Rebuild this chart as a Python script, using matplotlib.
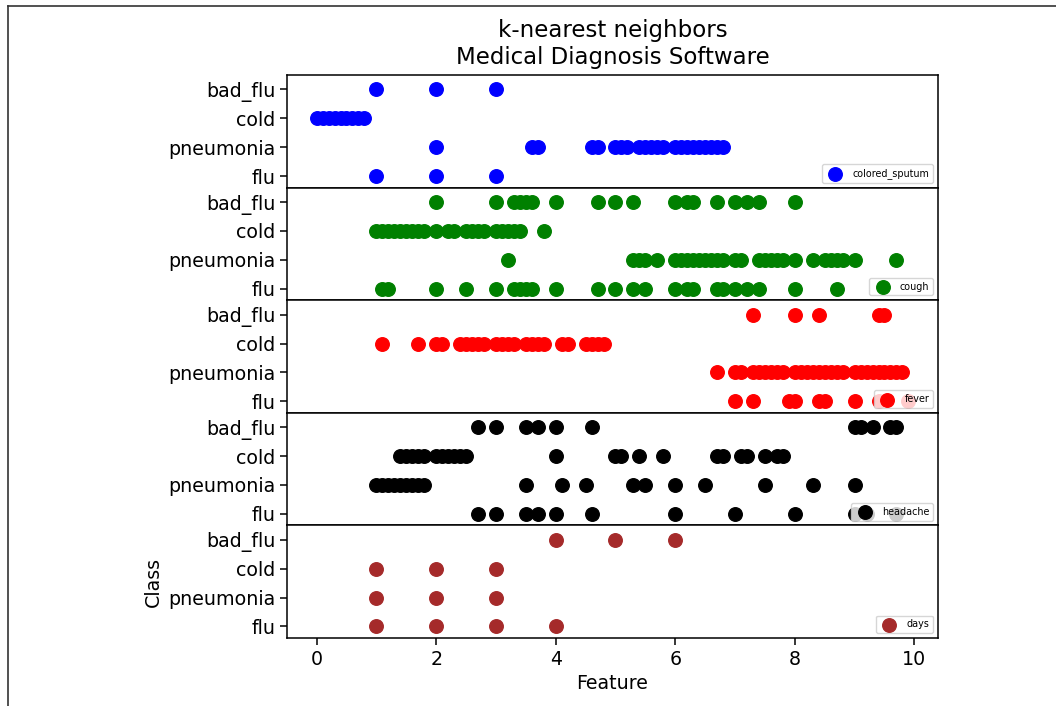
import matplotlib
matplotlib.use("Agg")
import matplotlib.pyplot as plt
from matplotlib.lines import Line2D

# 类别（自下而上）
classes = ["flu", "pneumonia", "cold", "bad_flu"]
features = ["colored_sputum", "cough", "fever", "headache", "days"]
colors = ["blue", "green", "red", "black", "brown"]

# 每个特征、每个类别的取值
colored_sputum = {
    "bad_flu": [1, 2, 3],
    "cold": [0.0, 0.1, 0.2, 0.3, 0.4, 0.5, 0.6, 0.7, 0.8],
    "pneumonia": [2, 3.6, 3.7, 4.6, 4.7, 5.0, 5.1, 5.2, 5.4, 5.5, 5.6, 5.7, 5.8,
                  6.0, 6.1, 6.2, 6.3, 6.4, 6.5, 6.6, 6.7, 6.8],
    "flu": [1, 2, 3],
}
cough = {
    "bad_flu": [2, 3, 3.3, 3.4, 3.5, 3.6, 4, 4.7, 5, 5.3, 6, 6.2, 6.3, 6.7, 7, 7.2, 7.4, 8],
    "cold": [1.0, 1.1, 1.2, 1.3, 1.4, 1.5, 1.6, 1.7, 1.8, 2.0, 2.2, 2.3, 2.5, 2.6, 2.7, 2.8,
             3.0, 3.1, 3.2, 3.3, 3.4, 3.8],
    "pneumonia": [3.2, 5.3, 5.4, 5.5, 5.7, 6.0, 6.1, 6.2, 6.3, 6.4, 6.5, 6.6, 6.7, 6.8, 7.0, 7.1,
                  7.4, 7.5, 7.6, 7.7, 7.8, 8.0, 8.3, 8.5, 8.6, 8.7, 8.8, 9.0, 9.7],
    "flu": [1.1, 1.2, 2, 2.5, 3, 3.3, 3.4, 3.5, 3.6, 4, 4.7, 5, 5.3, 5.5, 6, 6.2, 6.3,
            6.7, 6.8, 7, 7.2, 7.4, 8, 8.7],
}
fever = {
    "bad_flu": [7.3, 8.0, 8.4, 9.4, 9.5],
    "cold": [1.1, 1.7, 2.0, 2.1, 2.4, 2.5, 2.6, 2.7, 2.8, 3.0, 3.1, 3.2, 3.3, 3.5, 3.6, 3.7, 3.8,
             4.1, 4.2, 4.5, 4.6, 4.7, 4.8],
    "pneumonia": [6.7, 7.0, 7.1, 7.3, 7.4, 7.5, 7.6, 7.7, 7.8, 8.0, 8.1, 8.2, 8.3, 8.4, 8.5, 8.6,
                  8.7, 8.8, 9.0, 9.1, 9.2, 9.3, 9.4, 9.5, 9.6, 9.7, 9.8],
    "flu": [7.0, 7.3, 7.9, 8.0, 8.4, 8.5, 9.0, 9.4, 9.9],
}
headache = {
    "bad_flu": [2.7, 3.0, 3.5, 3.7, 4.0, 4.6, 9.0, 9.1, 9.3, 9.6, 9.7],
    "cold": [1.4, 1.5, 1.6, 1.7, 1.8, 2.0, 2.1, 2.2, 2.3, 2.4, 2.5, 4.0, 5.0, 5.1, 5.4, 5.8,
             6.7, 6.8, 7.1, 7.2, 7.5, 7.7, 7.8],
    "pneumonia": [1.0, 1.1, 1.2, 1.3, 1.4, 1.5, 1.6, 1.7, 1.8, 3.5, 4.1, 4.5, 5.3, 5.5, 6.0,
                  6.5, 7.5, 8.3, 9.0],
    "flu": [2.7, 3.0, 3.5, 3.7, 4.0, 4.6, 6.0, 7.0, 8.0, 9.0, 9.2, 9.7],
}
days = {
    "bad_flu": [4, 5, 6],
    "cold": [1, 2, 3],
    "pneumonia": [1, 2, 3],
    "flu": [1, 2, 3, 4],
}
all_data = [colored_sputum, cough, fever, headache, days]

plt.rcParams.update({
    "font.size": 13.7,
    "axes.linewidth": 1.1,
    "xtick.major.size": 4.8,
    "ytick.major.size": 4.8,
    "xtick.major.width": 1.1,
    "ytick.major.width": 1.1,
})

fig = plt.figure(figsize=(10.56, 7.06), dpi=100)
left, right = 287 / 1056, 938 / 1056
top, bottom = 1 - 75 / 706, 1 - 638 / 706
h = (top - bottom) / 5

axes = []
for i, (name, data, c) in enumerate(zip(features, all_data, colors)):
    ax = fig.add_axes([left, top - (i + 1) * h, right - left, h])
    axes.append(ax)
    first = True
    for yi, cls in enumerate(classes):
        xs = data[cls]
        ax.scatter(xs, [yi] * len(xs), s=95, color=c, label=name if first else None)
        first = False
    ax.set_xlim(-0.495, 10.395)
    ax.set_ylim(-0.4, 3.5)
    ax.set_yticks(range(len(classes)))
    ax.set_yticklabels(classes)
    ax.legend(loc="lower right", fontsize=6.9)
    if i < 4:
        ax.set_xticks([])
    else:
        ax.set_xticks([0, 2, 4, 6, 8, 10])
        ax.set_xlabel("Feature")
        ax.set_ylabel("Class")

axes[0].set_title("k-nearest neighbors\nMedical Diagnosis Software", fontsize=16.5, pad=8)

# 截图边框
fig.add_artist(Line2D([8 / 1056, 8 / 1056], [0, 1 - 6 / 706], color="#333333", lw=1.2))
fig.add_artist(Line2D([8 / 1056, 1], [1 - 6 / 706, 1 - 6 / 706], color="#333333", lw=1.2))

fig.savefig("out.png", dpi=100)
